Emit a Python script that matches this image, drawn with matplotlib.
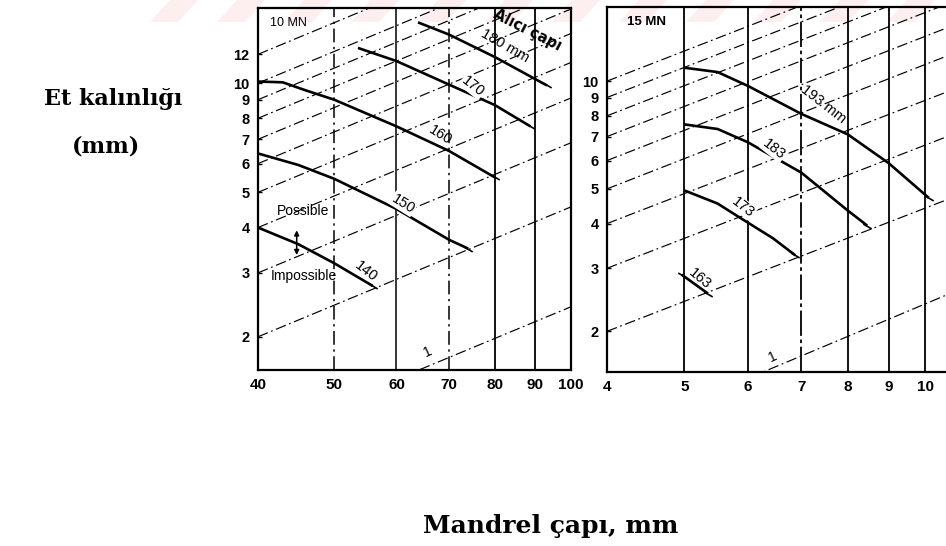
import matplotlib
matplotlib.use("Agg")
import matplotlib.pyplot as plt
from matplotlib.patches import Polygon
from matplotlib.ticker import FixedLocator, FixedFormatter, NullLocator

# sol grafik (10 MN)
sol_xtik = [40, 50, 60, 70, 80, 90, 100]
sol_ytik = [2, 3, 4, 5, 6, 7, 8, 9, 10, 12]
sol_dikey = [50, 60, 70, 80, 90]

c140_x = [40, 45, 50, 56]
c140_y = [4.0, 3.6, 3.19, 2.76]
c150_x = [40, 45, 50, 60, 70, 74]
c150_y = [6.4, 5.95, 5.45, 4.5, 3.7, 3.5]
c160_x = [40, 43, 46, 50, 60, 70, 80]
c160_y = [10.1, 10.05, 9.55, 9.0, 7.6, 6.5, 5.5]
c170_x = [53.6, 60, 70, 80, 88.8]
c170_y = [12.5, 11.5, 9.9, 8.7, 7.6]
c180_x = [63.9, 70, 80, 93.2]
c180_y = [14.7, 13.6, 11.8, 9.85]

# kesikli cizgiler: x=40 ve x=100 degerleri
sol_cizgi_bas = [1.06, 2, 3, 4, 5, 6, 7, 8, 9, 10, 12]
sol_cizgi_son = [2.42, 4.56, 6.85, 9.1, 11.4, 13.7, 16.0, 18.2, 20.5, 22.8, 27.4]

# sag grafik (15 MN)
sag_xtik = [4, 5, 6, 7, 8, 9, 10]
sag_ytik = [2, 3, 4, 5, 6, 7, 8, 9, 10]
sag_dikey = [5, 6, 7, 8, 9, 10]

c163_x = [4.96, 5.35]
c163_y = [2.88, 2.55]
c173_x = [5, 5.5, 5.87, 6.45, 6.88]
c173_y = [4.95, 4.55, 4.15, 3.64, 3.26]
c183_x = [5, 5.5, 6, 7, 8, 8.46]
c183_y = [7.57, 7.35, 6.75, 5.55, 4.35, 3.95]
c193_x = [5, 5.5, 6, 7, 8, 9, 10.1]
c193_y = [10.9, 10.6, 9.7, 8.1, 7.1, 5.9, 4.72]

# kesikli cizgiler: x=4 ve x=11 degerleri
sag_cizgi_bas = [1.01, 2, 3, 4, 5, 6, 7, 8, 9, 10]
sag_cizgi_son = [2.61, 4.8, 7.2, 9.6, 12.1, 14.5, 16.9, 19.3, 21.7, 24.1]

DASHDOT = (0, (9, 3, 1.5, 3))
SANS = ['Liberation Sans', 'DejaVu Sans']
SERIF = ['DejaVu Serif']
W, H = 946, 546

fig = plt.figure(figsize=(9.46, 5.46), dpi=100)

# ustteki soluk pembe filigran seritleri
for x0 in range(150, 946, 67):
    pts = [((x0 + 20) / W, 1.0), ((x0 + 48) / W, 1.0),
           ((x0 + 28) / W, 1 - 22 / H), (x0 / W, 1 - 22 / H)]
    fig.add_artist(Polygon(pts, closed=True, transform=fig.transFigure,
                           fc='#fdeef0', ec='none', zorder=0))

ax1 = fig.add_axes([0.2727, 0.3223, 0.3309, 0.6630])
ax2 = fig.add_axes([0.6416, 0.3187, 0.3600, 0.6683])


def kur(ax, xlim, ylim, xt, yt):
    ax.patch.set_alpha(0)
    ax.set_xscale('log')
    ax.set_yscale('log')
    ax.set_xlim(*xlim)
    ax.set_ylim(*ylim)
    ax.xaxis.set_major_locator(FixedLocator(xt))
    ax.xaxis.set_major_formatter(FixedFormatter([str(v) for v in xt]))
    ax.xaxis.set_minor_locator(NullLocator())
    ax.yaxis.set_major_locator(FixedLocator(yt))
    ax.yaxis.set_major_formatter(FixedFormatter([str(v) for v in yt]))
    ax.yaxis.set_minor_locator(NullLocator())
    ax.tick_params(axis='x', length=0, pad=6)
    ax.tick_params(axis='y', length=3, width=1, direction='in', pad=6)
    for lab in ax.get_xticklabels():
        lab.set_fontfamily(SANS)
        lab.set_fontweight('bold')
        lab.set_fontsize(11)
    for lab in ax.get_yticklabels():
        lab.set_fontfamily(SANS)
        lab.set_fontweight('bold')
        lab.set_fontsize(10.5)
    for s in ax.spines.values():
        s.set_linewidth(1.6)


kur(ax1, (40, 100), (1.62, 16.1), sol_xtik, sol_ytik)
kur(ax2, (4, 10.66), (1.54, 16.1), sag_xtik, sag_ytik)
ax2.spines['right'].set_visible(False)

# dikey cizgiler
for v in sol_dikey:
    ls = DASHDOT if v in (50, 70) else '-'
    ax1.axvline(v, color='black', lw=1.3 if v >= 80 else 1.1, ls=ls)
for v in sag_dikey:
    ls = (0, (14, 2, 2, 2)) if v == 7 else '-'
    ax2.axvline(v, color='black', lw=1.3, ls=ls)

# kesikli egimli cizgiler
for a, b in zip(sol_cizgi_bas, sol_cizgi_son):
    ax1.plot([40, 100], [a, b], color='black', lw=0.85, ls=DASHDOT)
for a, b in zip(sag_cizgi_bas, sag_cizgi_son):
    ax2.plot([4, 11], [a, b], color='black', lw=0.85, ls=DASHDOT)

# alici capi egrileri
for ex, ey in [(c140_x, c140_y), (c150_x, c150_y), (c160_x, c160_y),
               (c170_x, c170_y), (c180_x, c180_y)]:
    ax1.plot(ex, ey, color='black', lw=1.9, solid_capstyle='butt',
             marker=(2, 0, 60), markevery=[len(ex) - 1], ms=7, mew=1.2)
for ex, ey in [(c163_x, c163_y), (c173_x, c173_y), (c183_x, c183_y),
               (c193_x, c193_y)]:
    ax2.plot(ex, ey, color='black', lw=1.9, solid_capstyle='butt',
             marker=(2, 0, 60), markevery=[0, len(ex) - 1] if len(ex) == 2 else [len(ex) - 1],
             ms=7, mew=1.2)

ek = dict(fontsize=10.5, family=SANS, ha='center', va='center', zorder=5)
kutu = dict(boxstyle='square,pad=0.05', fc='white', ec='none')
ax1.text(0.04, 0.975, '10 MN', transform=ax1.transAxes, fontsize=9,
         family=SANS, va='top')
ax1.text(82.5, 12.7, '180 mm', rotation=-30, **ek)
ax1.text(75, 9.8, '170', rotation=-38, bbox=kutu, **ek)
ax1.text(68.2, 7.2, '160', rotation=-32, **ek)
ax1.text(61.2, 4.65, '150', rotation=-32, bbox=kutu, **ek)
ax1.text(54.8, 3.02, '140', rotation=-38, **ek)
ax1.text(45.6, 4.45, 'Possible', fontsize=10, family=SANS,
         ha='center', va='center')
ax1.text(45.8, 2.95, 'Impossible', fontsize=10, family=SANS,
         ha='center', va='center')
ax1.annotate('', xy=(44.8, 4.0), xytext=(44.8, 3.3),
             arrowprops=dict(arrowstyle='<|-|>', color='black', lw=1.1,
                             mutation_scale=7))
ax1.text(65.8, 1.82, '1', rotation=25, fontsize=10, family=SANS,
         ha='center', va='center')
ax1.text(0.862, 0.938, 'Alıcı çapı', transform=ax1.transAxes, rotation=-27,
         fontsize=10.5, fontweight='bold', family='DejaVu Sans', ha='center',
         va='center', clip_on=False, zorder=6)

ax2.text(0.06, 0.975, '15 MN', transform=ax2.transAxes, fontsize=9.5,
         fontweight='bold', family=SANS, va='top')
ax2.text(7.45, 8.6, '193 mm', rotation=-38, **ek)
ax2.text(6.47, 6.45, '183', rotation=-38, bbox=kutu, **ek)
ax2.text(5.92, 4.45, '173', rotation=-38, bbox=kutu, **ek)
ax2.text(5.22, 2.8, '163', rotation=-40, **ek)
ax2.text(6.44, 1.7, '1', rotation=25, fontsize=10, family=SANS,
         ha='center', va='center')

fig.text(113 / W, 1 - 99 / H, 'Et kalınlığı', fontsize=16,
         fontweight='bold', family=SERIF, ha='center', va='center')
fig.text(106 / W, 1 - 147 / H, '(mm)', fontsize=16,
         fontweight='bold', family=SERIF, ha='center', va='center')
fig.text(551 / W, 1 - 526 / H, 'Mandrel çapı, mm', fontsize=18,
         fontweight='bold', family=SERIF, ha='center', va='center')

fig.savefig('out.png', dpi=100)
